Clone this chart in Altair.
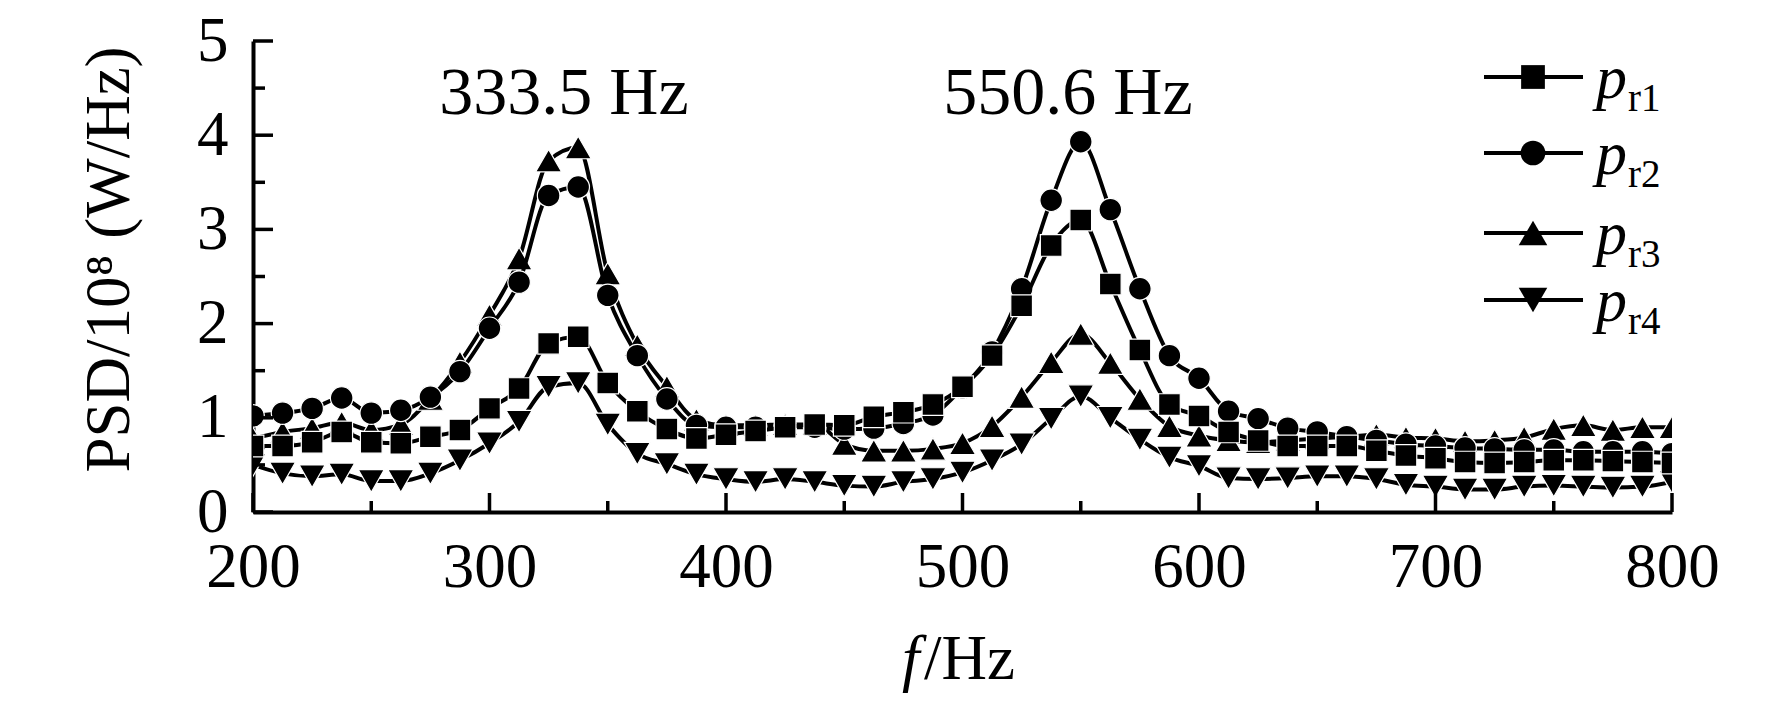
import altair as alt
import pandas as pd

# ---- data ----
freq = [200 + 12.5 * k for k in range(49)]

p_r1 = [0.70, 0.70, 0.74, 0.85, 0.74, 0.73, 0.80, 0.87, 1.10, 1.31, 1.79, 1.86, 1.37,
        1.07, 0.88, 0.78, 0.82, 0.86, 0.90, 0.93, 0.92, 1.01, 1.06, 1.14, 1.33, 1.66,
        2.19, 2.83, 3.10, 2.42, 1.72, 1.14, 1.02, 0.85, 0.76, 0.70, 0.70, 0.70, 0.65,
        0.60, 0.57, 0.53, 0.52, 0.53, 0.55, 0.55, 0.54, 0.53, 0.52]
p_r2 = [1.02, 1.05, 1.10, 1.21, 1.05, 1.08, 1.22, 1.49, 1.95, 2.44, 3.36, 3.45, 2.30,
        1.66, 1.20, 0.92, 0.90, 0.90, 0.90, 0.90, 0.88, 0.89, 0.94, 1.03, 1.32, 1.70,
        2.37, 3.31, 3.93, 3.21, 2.37, 1.66, 1.42, 1.07, 0.99, 0.89, 0.85, 0.80, 0.76,
        0.72, 0.70, 0.68, 0.67, 0.66, 0.66, 0.64, 0.64, 0.64, 0.62]
p_r3 = [0.78, 0.85, 0.89, 0.95, 0.87, 0.93, 1.20, 1.59, 2.09, 2.69, 3.73, 3.87, 2.53,
        1.77, 1.33, 0.98, 0.92, 0.92, 0.93, 0.93, 0.72, 0.65, 0.65, 0.67, 0.73, 0.91,
        1.22, 1.59, 1.89, 1.58, 1.20, 0.91, 0.81, 0.76, 0.74, 0.76, 0.78, 0.80, 0.82,
        0.79, 0.78, 0.75, 0.76, 0.79, 0.88, 0.92, 0.87, 0.90, 0.90]
p_r4 = [0.50, 0.41, 0.38, 0.40, 0.33, 0.33, 0.41, 0.55, 0.73, 0.96, 1.33, 1.37, 0.93,
        0.62, 0.51, 0.40, 0.35, 0.32, 0.35, 0.32, 0.28, 0.27, 0.32, 0.35, 0.42, 0.55,
        0.72, 0.99, 1.23, 1.00, 0.77, 0.58, 0.49, 0.36, 0.35, 0.36, 0.38, 0.38, 0.35,
        0.29, 0.27, 0.24, 0.24, 0.27, 0.28, 0.27, 0.26, 0.27, 0.32]

series_names = ["pr1", "pr2", "pr3", "pr4"]
series_vals = [p_r1, p_r2, p_r3, p_r4]
series_shapes = ["square", "circle", "triangle-up", "triangle-down"]
series_sizes = [470, 510, 680, 680]
legend_main = "p"
legend_sub = ["r1", "r2", "r3", "r4"]

ann_f = [331.5, 544.6]
ann_v = [4.22, 4.22]
ann_text = ["333.5 Hz", "550.6 Hz"]

x_ticks = [200, 300, 400, 500, 600, 700, 800]
x_minor = [250, 350, 450, 550, 650, 750]
y_ticks = [0, 1, 2, 3, 4, 5]
y_minor = [0.5, 1.5, 2.5, 3.5, 4.5]

y_title = "PSD/10\u2078 (W/Hz)"
x_title_italic = "f"
x_title_rest = "/Hz"

# ---- layout ----
W, H = 1419, 471
FONT = "Liberation Serif"

xs = alt.Scale(domain=[200, 800], nice=False, zero=False)
ys = alt.Scale(domain=[0, 5], nice=False, zero=False)

axis_common = dict(
    labelFont=FONT, labelFontSize=63, labelColor="black",
    domainColor="black", domainWidth=4, ticks=False, tickSize=0,
    grid=False, title=None, labelFlush=False, labelOverlap=False,
)
x_axis = alt.Axis(values=x_ticks, labelPadding=24, **axis_common)
y_axis = alt.Axis(values=y_ticks, labelPadding=25, **axis_common)


def X(field):
    return alt.X(field, type="quantitative", scale=xs, axis=x_axis)


def Y(field):
    return alt.Y(field, type="quantitative", scale=ys, axis=y_axis)


rows = []
for name, vals in zip(series_names, series_vals):
    for f, v in zip(freq, vals):
        rows.append({"f": f, "v": v, "s": name})
df = pd.DataFrame(rows)

layers = []

order = [2, 3, 1, 0]
for i in order:
    sub = df[df.s == series_names[i]]
    ln = alt.Chart(sub).mark_line(color="black", strokeWidth=4, interpolate="monotone", clip=True).encode(
        x=X("f"), y=Y("v"))
    pt = alt.Chart(sub).mark_point(shape=series_shapes[i], filled=True, fill="black", opacity=1,
                                   size=series_sizes[i], stroke="white", strokeWidth=1.2, clip=True).encode(
        x=X("f"), y=Y("v"))
    layers += [ln, pt]

# inward ticks
xt = alt.Chart(pd.DataFrame({"t": x_ticks})).mark_rule(color="black", strokeWidth=3.5).encode(
    x=X("t"), y=alt.value(H), y2=alt.value(H - 19))
xm = alt.Chart(pd.DataFrame({"t": x_minor})).mark_rule(color="black", strokeWidth=3.5).encode(
    x=X("t"), y=alt.value(H), y2=alt.value(H - 11))
yt = alt.Chart(pd.DataFrame({"t": y_ticks})).mark_rule(color="black", strokeWidth=3.5).encode(
    y=Y("t"), x=alt.value(0), x2=alt.value(20))
ym = alt.Chart(pd.DataFrame({"t": y_minor})).mark_rule(color="black", strokeWidth=3.5).encode(
    y=Y("t"), x=alt.value(0), x2=alt.value(12))
layers += [xt, xm, yt, ym]

# peak annotations
ann = alt.Chart(pd.DataFrame({"f": ann_f, "v": ann_v, "t": ann_text})).mark_text(
    font=FONT, fontSize=68, color="black", align="center", baseline="alphabetic").encode(
    x=X("f"), y=Y("v"), text="t:N")
layers.append(ann)

one = pd.DataFrame({"a": [0]})

# axis titles
layers.append(alt.Chart(one).mark_text(text=y_title, font=FONT, fontSize=63, color="black", angle=270,
                                       align="center", baseline="middle").encode(
    x=alt.value(-143), y=alt.value(H / 2 - 17)))
layers.append(alt.Chart(one).mark_text(text=x_title_italic, font=FONT, fontSize=63, fontStyle="italic",
                                       color="black", align="left", baseline="alphabetic").encode(
    x=alt.value(649), y=alt.value(638)))
layers.append(alt.Chart(one).mark_text(text=x_title_rest, font=FONT, fontSize=63,
                                       color="black", align="left", baseline="alphabetic").encode(
    x=alt.value(671), y=alt.value(638)))

# custom legend
legend_rows = [36, 112, 192, 259]
for i in range(4):
    ry = legend_rows[i]
    layers.append(alt.Chart(one).mark_rule(color="black", strokeWidth=4).encode(
        x=alt.value(1231), x2=alt.value(1330), y=alt.value(ry)))
    layers.append(alt.Chart(one).mark_point(shape=series_shapes[i], filled=True, fill="black", opacity=1,
                                            size=series_sizes[i] * 1.2, strokeWidth=0).encode(
        x=alt.value(1280), y=alt.value(ry)))
    layers.append(alt.Chart(one).mark_text(text=legend_main, font=FONT, fontSize=62, fontStyle="italic",
                                           color="black", align="left", baseline="alphabetic").encode(
        x=alt.value(1343), y=alt.value(ry + 21)))
    layers.append(alt.Chart(one).mark_text(text=legend_sub[i], font=FONT, fontSize=39,
                                           color="black", align="left", baseline="alphabetic").encode(
        x=alt.value(1375), y=alt.value(ry + 34)))

chart = alt.layer(*layers).properties(
    width=W, height=H, autosize="none",
    padding={"left": 245, "top": 33, "right": 92, "bottom": 188},
    background="white",
).configure_view(stroke=None)

chart.save("out.html", embed_options={"renderer": "svg", "actions": False})
